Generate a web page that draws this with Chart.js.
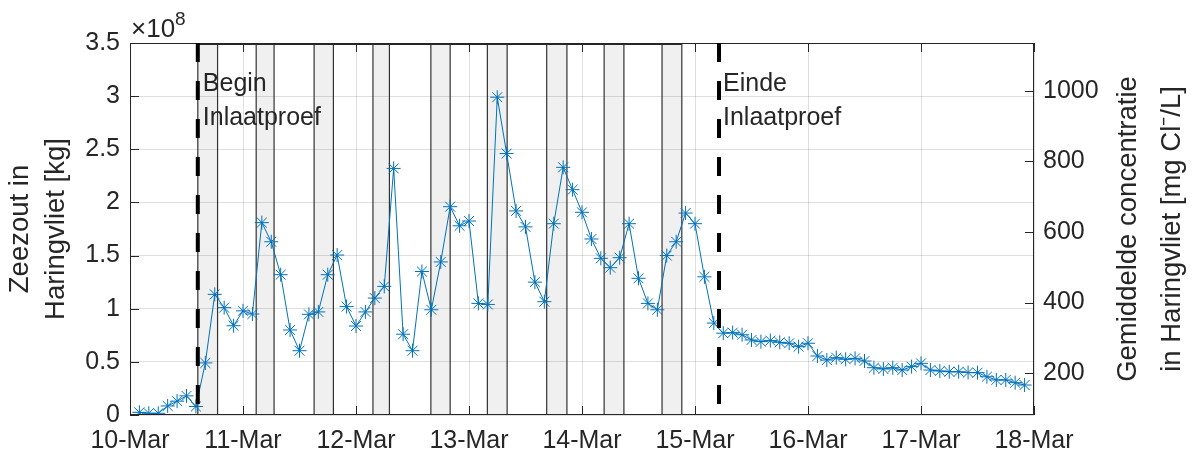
<!DOCTYPE html>
<html>
<head>
<meta charset="utf-8">
<script src="https://cdn.jsdelivr.net/npm/chart.js@4.4.1/dist/chart.umd.min.js"></script>
<style>
  html, body { margin: 0; padding: 0; background: #fff; }
  #wrap { width: 1199px; height: 455px; }
</style>
</head>
<body>
<div id="wrap"><canvas id="saltChart"></canvas></div>
<script>
// zeezout in Haringvliet [x 10^8 kg], one value every 2 hours from 10-Mar 02:00
const saltE8 = [
  0.025, 0.016, 0.016, 0.085, 0.13, 0.18, 0.08, 0.49, 1.135, 1.01,
  0.84, 0.98, 0.95, 1.81, 1.63, 1.32, 0.80, 0.605, 0.947, 0.97,
  1.32, 1.505, 1.02, 0.837, 0.97, 1.10, 1.21, 2.32, 0.76, 0.605,
  1.35, 0.99, 1.44, 1.96, 1.78, 1.825, 1.05, 1.04, 2.99, 2.46,
  1.92, 1.77, 1.25, 1.066, 1.80, 2.33, 2.12, 1.907, 1.656, 1.474,
  1.386, 1.48, 1.80, 1.286, 1.05, 0.99, 1.50, 1.63, 1.90, 1.80,
  1.30, 0.865, 0.77, 0.775, 0.755, 0.706, 0.69, 0.70, 0.684, 0.675,
  0.643, 0.675, 0.555, 0.517, 0.539, 0.524, 0.533, 0.508, 0.445, 0.433,
  0.445, 0.423, 0.455, 0.486, 0.423, 0.414, 0.407, 0.407, 0.40, 0.398,
  0.36, 0.33, 0.33, 0.304, 0.282
];
// hours since 10-Mar 00:00
const hours = saltE8.map((_, i) => 2 + 2 * i);

const dayTicks = [0, 24, 48, 72, 96, 120, 144, 168, 192];
const dayLabels = ['10-Mar', '11-Mar', '12-Mar', '13-Mar', '14-Mar', '15-Mar', '16-Mar', '17-Mar', '18-Mar'];
const saltTicks = [0, 0.5, 1, 1.5, 2, 2.5, 3, 3.5];
const saltTickLabels = ['0', '0.5', '1', '1.5', '2', '2.5', '3', '3.5'];
const concTicks = [200, 400, 600, 800, 1000];
const concTickLabels = ['200', '400', '600', '800', '1000'];
const concMin = 81;
const concMax = 1136;

// inlaat periods (hours since 10-Mar 00:00)
const inletStart = [14.4, 26.8, 39.1, 51.6, 63.9, 75.9, 88.5, 100.7, 113.0];
const inletEnd = [18.6, 30.6, 43.2, 55.1, 68.0, 80.1, 92.8, 104.9, 117.2];
const beginTrial = 14.4;
const endTrial = 125.1;

const FONT = "'Liberation Sans', Arial, Helvetica, sans-serif";
const INK = '#262626';
const GRID = 'rgba(38,38,38,0.15)';

const inletPlugin = {
  id: 'inlet',
  beforeDraw(chart) {
    const { ctx, chartArea: a, scales: { x } } = chart;
    ctx.save();
    ctx.fillStyle = '#f0f0f0';
    ctx.strokeStyle = '#333333';
    ctx.lineWidth = 1.2;
    inletStart.forEach((s, i) => {
      const x0 = x.getPixelForValue(s);
      const x1 = x.getPixelForValue(inletEnd[i]);
      ctx.fillRect(x0, a.top, x1 - x0, a.bottom - a.top);
      ctx.beginPath();
      ctx.moveTo(x0, a.top); ctx.lineTo(x0, a.bottom);
      ctx.moveTo(x1, a.top); ctx.lineTo(x1, a.bottom);
      ctx.stroke();
    });
    ctx.restore();
  },
  afterDatasetsDraw(chart) {
    const { ctx, chartArea: a, scales: { x, y, y2 } } = chart;
    ctx.save();

    // axes box
    ctx.strokeStyle = INK;
    ctx.lineWidth = 1;
    ctx.strokeRect(a.left + 0.5, a.top + 0.5, a.right - a.left - 1, a.bottom - a.top - 1);
    // heavier top edge over the test period
    ctx.lineWidth = 2;
    ctx.beginPath();
    ctx.moveTo(x.getPixelForValue(beginTrial), a.top + 1);
    ctx.lineTo(x.getPixelForValue(inletEnd[inletEnd.length - 1]), a.top + 1);
    ctx.stroke();

    // inward tick marks
    ctx.lineWidth = 1;
    ctx.beginPath();
    saltTicks.forEach(v => {
      const py = Math.round(y.getPixelForValue(v)) + 0.5;
      ctx.moveTo(a.left, py); ctx.lineTo(a.left + 9, py);
    });
    concTicks.forEach(v => {
      const py = Math.round(y2.getPixelForValue(v)) + 0.5;
      ctx.moveTo(a.right, py); ctx.lineTo(a.right - 9, py);
    });
    dayTicks.forEach(v => {
      const px = Math.round(x.getPixelForValue(v)) + 0.5;
      ctx.moveTo(px, a.bottom); ctx.lineTo(px, a.bottom - 9);
      ctx.moveTo(px, a.top); ctx.lineTo(px, a.top + 9);
    });
    ctx.stroke();

    // begin / einde lines
    ctx.strokeStyle = '#000';
    ctx.lineWidth = 4;
    ctx.setLineDash([19, 19]);
    [beginTrial, endTrial].forEach(t => {
      const px = x.getPixelForValue(t);
      ctx.beginPath();
      ctx.moveTo(px, a.top); ctx.lineTo(px, a.bottom);
      ctx.stroke();
    });
    ctx.setLineDash([]);

    // annotations
    ctx.fillStyle = INK;
    ctx.font = '25px ' + FONT;
    ctx.textAlign = 'left';
    ctx.textBaseline = 'alphabetic';
    const bx = x.getPixelForValue(beginTrial) + 5;
    ctx.fillText('Begin', bx, a.top + 48);
    ctx.fillText('Inlaatproef', bx, a.top + 82);
    const ex = x.getPixelForValue(endTrial) + 4;
    ctx.fillText('Einde', ex, a.top + 48);
    ctx.fillText('Inlaatproef', ex, a.top + 82);

    // exponent label
    ctx.font = '26px ' + FONT;
    ctx.fillText('\u00d710', a.left + 1, a.top - 6);
    const w = ctx.measureText('\u00d710').width;
    ctx.font = '19px ' + FONT;
    ctx.fillText('8', a.left + 1 + w, a.top - 18);

    // right axis title (reads bottom to top)
    ctx.font = '27.5px ' + FONT;
    ctx.textAlign = 'center';
    ctx.textBaseline = 'middle';
    ctx.translate(a.right + 94, (a.top + a.bottom) / 2);
    ctx.rotate(-Math.PI / 2);
    ctx.fillText('Gemiddelde concentratie', 0, 0);
    ctx.fillText('in Haringvliet [mg Cl\u207b/L]', 0, 44);
    ctx.restore();
  }
};

new Chart(document.getElementById('saltChart'), {
  type: 'line',
  data: {
    datasets: [{
      data: hours.map((h, i) => ({ x: h, y: saltE8[i] })),
      yAxisID: 'y',
      borderColor: '#0072BD',
      borderWidth: 1,
      pointStyle: 'star',
      pointRadius: 7,
      pointBorderWidth: 1,
      pointBorderColor: '#0072BD',
      pointBackgroundColor: '#0072BD',
      tension: 0,
      fill: false
    }]
  },
  options: {
    responsive: true,
    maintainAspectRatio: false,
    animation: false,
    devicePixelRatio: 1,
    layout: { padding: { top: 43, left: 0, right: 0, bottom: 0 } },
    plugins: {
      legend: { display: false },
      tooltip: { enabled: false }
    },
    scales: {
      x: {
        type: 'linear',
        min: 0,
        max: 192,
        afterBuildTicks: s => { s.ticks = dayTicks.map(v => ({ value: v })); },
        afterFit: s => { s.height = 40; },
        ticks: {
          callback: (v, i) => dayLabels[i],
          font: { family: FONT, size: 25 },
          color: INK,
          padding: 11,
          maxRotation: 0,
          autoSkip: false
        },
        grid: { color: GRID, drawTicks: false },
        border: { display: false }
      },
      y: {
        position: 'left',
        min: 0,
        max: 3.5,
        afterBuildTicks: s => { s.ticks = saltTicks.map(v => ({ value: v })); },
        afterFit: s => { s.width = 130; },
        ticks: {
          callback: (v, i) => saltTickLabels[i],
          font: { family: FONT, size: 25 },
          color: INK,
          padding: 10,
          autoSkip: false
        },
        grid: { color: GRID, drawTicks: false },
        border: { display: false },
        title: {
          display: true,
          text: ['Zeezout in', 'Haringvliet [kg]'],
          font: { family: FONT, size: 27.5, lineHeight: 1.3 },
          color: INK,
          padding: { top: 3, bottom: 0 }
        }
      },
      y2: {
        position: 'right',
        min: concMin,
        max: concMax,
        afterBuildTicks: s => { s.ticks = concTicks.map(v => ({ value: v })); },
        afterFit: s => { s.width = 165; },
        ticks: {
          callback: (v, i) => concTickLabels[i],
          font: { family: FONT, size: 25 },
          color: INK,
          padding: 9,
          autoSkip: false
        },
        grid: { drawOnChartArea: false, drawTicks: false },
        border: { display: false }
      }
    }
  },
  plugins: [inletPlugin]
});
</script>
</body>
</html>
